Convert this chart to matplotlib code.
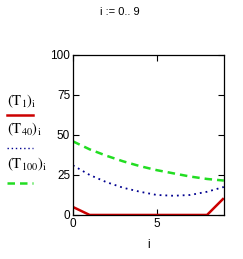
import matplotlib
matplotlib.use("Agg")
import matplotlib.pyplot as plt
import numpy as np

# values
i_vals = list(range(10))
t1 = [5, 0, 0, 0, 0, 0, 0, 0, 0, 10.5]
t40 = [31, 25, 20.5, 17, 14.5, 12.5, 12, 12.5, 14.5, 17.5]
t100 = [46, 41, 37, 33.5, 30.5, 28, 26, 24, 22.5, 21.5]

y_ticks = [0, 25, 50, 75, 100]
x_ticks = [0, 5]

plt.rcParams["font.family"] = ["Liberation Sans", "DejaVu Sans"]
plt.rcParams["mathtext.fontset"] = "stix"

fig = plt.figure(figsize=(2.43, 2.59), dpi=100)
fig.patch.set_facecolor("white")
ax = fig.add_axes([0.300, 0.170, 0.621, 0.618])

ax.plot(i_vals, t1, color="#cc0000", linewidth=1.8, solid_capstyle="butt")
ax.plot(i_vals, t40, color="#000090", linewidth=1.3, linestyle=(0, (1, 2.2)))
ax.plot(i_vals, t100, color="#22dd22", linewidth=1.8, linestyle=(0, (3, 2)))

ax.set_xlim(0, 9)
ax.set_ylim(0, 100)
ax.set_yticks(y_ticks)
ax.set_xticks(x_ticks)
ax.tick_params(direction="in", length=4, width=0.8, labelsize=8.5,
               top=True, right=True, pad=2, colors="black")
for s in ax.spines.values():
    s.set_linewidth(0.9)

ax.set_xlabel("i", fontsize=8.5, labelpad=7)

fig.text(0.495, 0.953, "i := 0.. 9", fontsize=8, ha="center", va="center")

# legend labels in the left margin (Mathcad style)
fig.text(0.03, 0.61, r"$\left(\mathrm{T_{1}}\right)_{\mathrm{i}}$", fontsize=10.5, va="center")
fig.add_artist(plt.Line2D([0.03, 0.135], [0.556, 0.556], color="#cc0000", linewidth=1.8))
fig.text(0.03, 0.50, r"$\left(\mathrm{T_{40}}\right)_{\mathrm{i}}$", fontsize=10.5, va="center")
fig.add_artist(plt.Line2D([0.03, 0.135], [0.428, 0.428], color="#000090", linewidth=1.0,
                          linestyle=(0, (1, 2))))
fig.text(0.03, 0.365, r"$\left(\mathrm{T_{100}}\right)_{\mathrm{i}}$", fontsize=10.5, va="center")
fig.add_artist(plt.Line2D([0.03, 0.135], [0.293, 0.293], color="#22dd22", linewidth=1.8,
                          linestyle=(0, (3, 2))))

fig.savefig("out.png", dpi=100)
